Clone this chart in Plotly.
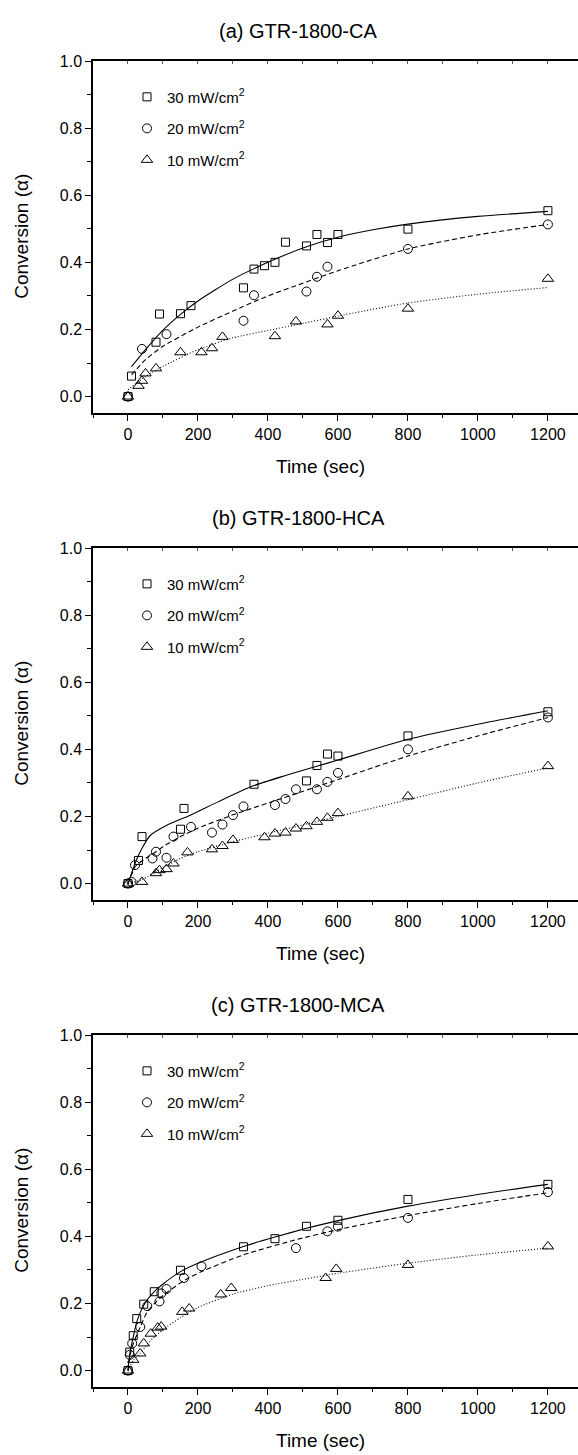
import plotly.graph_objects as go

W, H = 578, 1455

# ---------------- data ----------------
titles = ["(a) GTR-1800-CA", "(b) GTR-1800-HCA", "(c) GTR-1800-MCA"]
series_names = ["30 mW/cm<sup>2</sup>", "20 mW/cm<sup>2</sup>", "10 mW/cm<sup>2</sup>"]
x_ticks = [0, 200, 400, 600, 800, 1000, 1200]
y_ticks = [0.0, 0.2, 0.4, 0.6, 0.8, 1.0]

# Panel (a)
a_t30 = [0, 10, 80, 90, 150, 180, 330, 360, 390, 420, 450, 510, 540, 570, 600, 800, 1200]
a_v30 = [0.0, 0.061, 0.162, 0.246, 0.247, 0.271, 0.324, 0.38, 0.39, 0.40, 0.46, 0.449, 0.483, 0.459, 0.483, 0.499, 0.554]
a_t20 = [0, 40, 110, 330, 360, 510, 540, 570, 800, 1200]
a_v20 = [0.0, 0.142, 0.186, 0.226, 0.302, 0.313, 0.357, 0.387, 0.44, 0.513]
a_t10 = [0, 30, 40, 50, 80, 150, 210, 240, 270, 420, 480, 570, 600, 800, 1200]
a_v10 = [0.0, 0.032, 0.047, 0.069, 0.084, 0.132, 0.132, 0.144, 0.178, 0.18, 0.224, 0.215, 0.241, 0.262, 0.351]
a_ft30 = [10, 50, 100, 150, 200, 300, 400, 500, 600, 700, 800, 1000, 1200]
a_fv30 = [0.089, 0.14, 0.198, 0.245, 0.285, 0.35, 0.40, 0.443, 0.475, 0.497, 0.514, 0.537, 0.552]
a_ft20 = [10, 50, 100, 200, 300, 400, 500, 600, 800, 1000, 1200]
a_fv20 = [0.065, 0.11, 0.15, 0.207, 0.255, 0.30, 0.338, 0.375, 0.44, 0.482, 0.513]
a_ft10 = [0, 50, 100, 200, 300, 400, 500, 600, 800, 1000, 1200]
a_fv10 = [0.02, 0.06, 0.09, 0.14, 0.175, 0.197, 0.218, 0.24, 0.279, 0.305, 0.325]

# Panel (b)
b_t30 = [0, 30, 40, 150, 160, 360, 510, 540, 570, 600, 800, 1200]
b_v30 = [0.0, 0.069, 0.14, 0.162, 0.224, 0.296, 0.306, 0.352, 0.386, 0.38, 0.44, 0.512]
b_t20 = [0, 10, 20, 70, 80, 110, 130, 180, 240, 270, 300, 330, 420, 450, 480, 540, 570, 600, 800, 1200]
b_v20 = [0.0, 0.005, 0.055, 0.075, 0.095, 0.077, 0.14, 0.169, 0.152, 0.176, 0.204, 0.23, 0.234, 0.252, 0.281, 0.281, 0.303, 0.33, 0.40, 0.495]
b_t10 = [0, 40, 80, 90, 110, 130, 170, 240, 270, 300, 390, 420, 450, 480, 510, 540, 570, 600, 800, 1200]
b_v10 = [0.0, 0.005, 0.031, 0.04, 0.043, 0.06, 0.093, 0.102, 0.112, 0.13, 0.138, 0.149, 0.152, 0.164, 0.171, 0.184, 0.196, 0.21, 0.26, 0.35]
b_ft30 = [0, 10, 20, 40, 64, 111, 178, 260, 360, 450, 537, 600, 800, 1000, 1200]
b_fv30 = [0.0, 0.03, 0.06, 0.105, 0.144, 0.174, 0.204, 0.245, 0.292, 0.322, 0.349, 0.368, 0.43, 0.475, 0.515]
b_ft20 = [0, 10, 20, 50, 80, 100, 150, 200, 300, 400, 500, 600, 800, 1000, 1200]
b_fv20 = [0.0, 0.025, 0.05, 0.075, 0.095, 0.11, 0.14, 0.165, 0.205, 0.24, 0.275, 0.31, 0.38, 0.44, 0.495]
b_ft10 = [0, 40, 100, 150, 200, 300, 400, 500, 600, 800, 1000, 1200]
b_fv10 = [0.0, 0.012, 0.048, 0.075, 0.095, 0.125, 0.15, 0.175, 0.2, 0.25, 0.3, 0.345]

# Panel (c)
c_t30 = [0, 5, 15, 25, 45, 75, 150, 330, 420, 510, 600, 800, 1200]
c_v30 = [0.0, 0.055, 0.104, 0.155, 0.198, 0.235, 0.299, 0.369, 0.393, 0.43, 0.448, 0.51, 0.555]
c_t20 = [0, 5, 12, 35, 55, 90, 95, 110, 160, 210, 480, 570, 600, 800, 1200]
c_v20 = [0.0, 0.047, 0.081, 0.13, 0.192, 0.206, 0.23, 0.243, 0.276, 0.311, 0.365, 0.415, 0.429, 0.455, 0.532]
c_t10 = [0, 15, 35, 45, 65, 85, 95, 155, 175, 265, 295, 565, 595, 800, 1200]
c_v10 = [0.0, 0.032, 0.051, 0.081, 0.11, 0.128, 0.131, 0.175, 0.185, 0.227, 0.246, 0.276, 0.303, 0.315, 0.37]
c_ft30 = [0, 5, 15, 25, 45, 75, 100, 150, 200, 330, 420, 510, 600, 800, 1000, 1200]
c_fv30 = [0.0, 0.05, 0.10, 0.145, 0.195, 0.235, 0.258, 0.295, 0.32, 0.37, 0.398, 0.424, 0.447, 0.49, 0.525, 0.555]
c_ft20 = [0, 5, 15, 35, 55, 90, 110, 160, 210, 330, 480, 600, 800, 1000, 1200]
c_fv20 = [0.0, 0.04, 0.08, 0.13, 0.175, 0.215, 0.232, 0.268, 0.295, 0.345, 0.39, 0.42, 0.462, 0.498, 0.53]
c_ft10 = [0, 15, 35, 50, 70, 100, 150, 200, 300, 400, 500, 600, 800, 1000, 1200]
c_fv10 = [0.0, 0.03, 0.052, 0.072, 0.095, 0.122, 0.158, 0.188, 0.228, 0.253, 0.272, 0.29, 0.32, 0.345, 0.365]

panels = [
    dict(pts=[(a_t30, a_v30), (a_t20, a_v20), (a_t10, a_v10)],
         fits=[(a_ft30, a_fv30), (a_ft20, a_fv20), (a_ft10, a_fv10)]),
    dict(pts=[(b_t30, b_v30), (b_t20, b_v20), (b_t10, b_v10)],
         fits=[(b_ft30, b_fv30), (b_ft20, b_fv20), (b_ft10, b_fv10)]),
    dict(pts=[(c_t30, c_v30), (c_t20, c_v20), (c_t10, c_v10)],
         fits=[(c_ft30, c_fv30), (c_ft20, c_fv20), (c_ft10, c_fv10)]),
]

# ---------------- styling ----------------
FONT = "Arial, Liberation Sans, Helvetica, sans-serif"
symbols = ["square-open", "circle-open", "triangle-up-open"]
msizes = [8, 9, 10]
dashes = ["solid", "5px,3px", "1px,2px"]

# layout geometry in pixels
PANEL_STEP = 489.7
PLOT_TOP = 53.3
PLOT_BOT = 407.6
PLOT_LEFT = 93.0
XRANGE = [-100, 1286]
YRANGE = [-0.05, 1.0]

fig = go.Figure()
annotations = []
layout = dict(
    width=W, height=H,
    margin=dict(l=0, r=0, t=0, b=0),
    paper_bgcolor="white", plot_bgcolor="white",
    font=dict(family=FONT, color="black", size=16),
    showlegend=True,
)

for k, p in enumerate(panels):
    off = PANEL_STEP * k
    xa = "x" if k == 0 else f"x{k+1}"
    ya = "y" if k == 0 else f"y{k+1}"
    xkey = "xaxis" if k == 0 else f"xaxis{k+1}"
    ykey = "yaxis" if k == 0 else f"yaxis{k+1}"
    lg = "legend" if k == 0 else f"legend{k+1}"

    for i, (ft, fv) in enumerate(p["fits"]):
        fig.add_trace(go.Scatter(
            x=ft, y=fv, mode="lines", xaxis=xa, yaxis=ya,
            line=dict(color="black", width=1.1, dash=dashes[i], shape="spline", smoothing=0.6),
            showlegend=False, hoverinfo="skip"))
    for i, (t, v) in enumerate(p["pts"]):
        fig.add_trace(go.Scatter(
            x=t, y=v, mode="markers", xaxis=xa, yaxis=ya,
            name=series_names[i], legend=lg, legendgroup=f"g{k}{i}",
            marker=dict(symbol=symbols[i], size=msizes[i], color="black",
                        line=dict(color="black", width=1))))

    ydom = [1 - (PLOT_BOT + off) / H, 1 - (PLOT_TOP + off) / H]
    xdom = [PLOT_LEFT / W, 1.0]

    layout[xkey] = dict(
        domain=xdom, anchor=ya, range=XRANGE,
        tickmode="array", tickvals=x_ticks, ticktext=[str(v) for v in x_ticks],
        ticks="outside", ticklen=6, tickwidth=1.2, tickcolor="black",
        minor=dict(dtick=100, tick0=0, ticks="outside", ticklen=3, tickwidth=1, tickcolor="black"),
        showline=True, linecolor="black", linewidth=1.5, mirror=True,
        showgrid=False, zeroline=False,
        tickfont=dict(family=FONT, size=16, color="black"),
    )
    layout[ykey] = dict(
        domain=ydom, anchor=xa, range=YRANGE,
        tickmode="array", tickvals=y_ticks, ticktext=[f"{v:.1f}" for v in y_ticks],
        ticks="outside", ticklen=6, tickwidth=1.2, tickcolor="black",
        minor=dict(dtick=0.1, tick0=0, ticks="outside", ticklen=4, tickwidth=1, tickcolor="black"),
        showline=True, linecolor="black", linewidth=1.5, mirror=False,
        showgrid=False, zeroline=False,
        tickfont=dict(family=FONT, size=16, color="black"),
    )
    tkey = f"xaxis{k+4}"
    layout[tkey] = dict(
        overlaying=xa, anchor=ya, side="top", range=XRANGE, domain=xdom,
        tickmode="linear", tick0=0, dtick=100,
        ticks="inside", ticklen=3, tickwidth=1, tickcolor="#555",
        showticklabels=False, showline=False, showgrid=False, zeroline=False,
    )
    fig.add_trace(go.Scatter(x=[None], y=[None], xaxis=f"x{k+4}", yaxis=ya,
                             showlegend=False, hoverinfo="skip"))

    layout[lg] = dict(
        x=127 / W, y=1 - (73 + off) / H, xanchor="left", yanchor="top",
        bgcolor="rgba(0,0,0,0)", borderwidth=0, tracegroupgap=9,
        font=dict(family=FONT, size=15, color="black"),
        itemwidth=30,
    )

    annotations.append(dict(
        text=titles[k], x=298 / W, y=1 - (23 + off) / H, xref="paper", yref="paper",
        xanchor="center", yanchor="middle", showarrow=False,
        font=dict(family=FONT, size=20, color="black")))
    annotations.append(dict(
        text="Time (sec)", x=320 / W, y=1 - (461 + off) / H, xref="paper", yref="paper",
        xanchor="center", yanchor="middle", showarrow=False,
        font=dict(family=FONT, size=19, color="black")))
    annotations.append(dict(
        text="Conversion (α)", x=22 / W, y=1 - (230 + off) / H, xref="paper", yref="paper",
        xanchor="center", yanchor="middle", showarrow=False, textangle=-90,
        font=dict(family=FONT, size=19, color="black")))

layout["annotations"] = annotations
fig.update_layout(**layout)
fig.write_html(
    "out.html",
    config={"displayModeBar": False},
    post_script="document.body.style.margin='0';document.body.style.overflow='hidden';",
)
